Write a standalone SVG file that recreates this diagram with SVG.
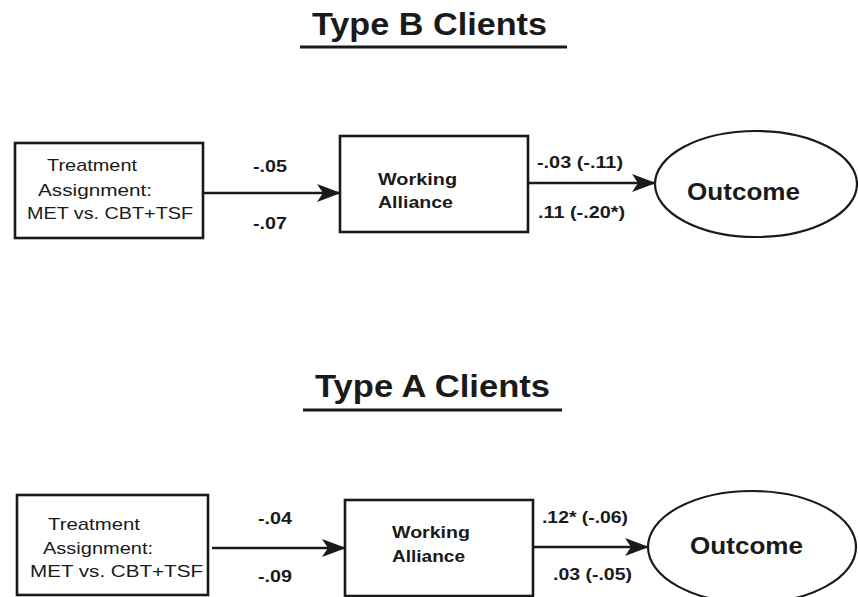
<svg xmlns="http://www.w3.org/2000/svg" width="858" height="597" viewBox="0 0 858 597">
<defs>
<style>
.title{font-family:"Liberation Sans",Arial,sans-serif;font-weight:bold;font-size:32px;fill:#1a1a1a}
.reg{font-family:"Liberation Sans",Arial,sans-serif;font-size:17px;fill:#1a1a1a}
.bold{font-family:"Liberation Sans",Arial,sans-serif;font-weight:bold;font-size:16px;fill:#1a1a1a}
.out{font-family:"Liberation Sans",Arial,sans-serif;font-weight:bold;font-size:24px;fill:#1a1a1a}
.box{fill:#fff;stroke:#1a1a1a;stroke-width:2.6}
.ell{fill:#fff;stroke:#1a1a1a;stroke-width:2.2}
.uline{stroke:#1a1a1a;stroke-width:3}
.conn{stroke:#1a1a1a;stroke-width:2.6;fill:none;marker-end:url(#ah)}
</style>
<marker id="ah" markerUnits="userSpaceOnUse" viewBox="0 0 24 18" refX="23" refY="9" markerWidth="24" markerHeight="18" orient="auto">
<path d="M0,0 L24,9 L0,18 L6,9 Z" fill="#1a1a1a"/>
</marker>
</defs>
<rect width="858" height="597" fill="#fff"/>

<g id="titleB">
<text class="title" x="312" y="35" textLength="235" lengthAdjust="spacingAndGlyphs">Type B Clients</text>
<line class="uline" x1="300" y1="47" x2="567" y2="47"/>
</g>
<g id="titleA">
<text class="title" x="315" y="397" textLength="235" lengthAdjust="spacingAndGlyphs">Type A Clients</text>
<line class="uline" x1="303" y1="410" x2="562" y2="410"/>
</g>

<g id="connectors">
<line class="conn" x1="203" y1="193" x2="340" y2="193"/>
<line class="conn" x1="528" y1="183" x2="655" y2="183"/>
<line class="conn" x1="212" y1="548" x2="345" y2="548"/>
<line class="conn" x1="533" y1="547" x2="648" y2="547"/>
<text class="bold" x="253" y="172" textLength="34" lengthAdjust="spacingAndGlyphs">-.05</text>
<text class="bold" x="253" y="229" textLength="34" lengthAdjust="spacingAndGlyphs">-.07</text>
<text class="bold" x="537" y="168" textLength="86" lengthAdjust="spacingAndGlyphs">-.03 (-.11)</text>
<text class="bold" x="538" y="218" textLength="87" lengthAdjust="spacingAndGlyphs">.11 (-.20*)</text>
<text class="bold" x="258" y="524" textLength="34" lengthAdjust="spacingAndGlyphs">-.04</text>
<text class="bold" x="258" y="582" textLength="34" lengthAdjust="spacingAndGlyphs">-.09</text>
<text class="bold" x="542" y="523" textLength="86" lengthAdjust="spacingAndGlyphs">.12* (-.06)</text>
<text class="bold" x="553" y="580" textLength="79" lengthAdjust="spacingAndGlyphs">.03 (-.05)</text>
</g>

<g id="treatmentB">
<rect class="box" x="15" y="143" width="188" height="95"/>
<text class="reg" x="47" y="171" textLength="90" lengthAdjust="spacingAndGlyphs">Treatment</text>
<text class="reg" x="38" y="196" textLength="114" lengthAdjust="spacingAndGlyphs">Assignment:</text>
<text class="reg" x="27" y="219" textLength="166" lengthAdjust="spacingAndGlyphs">MET vs. CBT+TSF</text>
</g>
<g id="allianceB">
<rect class="box" x="340" y="136" width="188" height="96"/>
<text class="bold" x="378" y="185" textLength="79" lengthAdjust="spacingAndGlyphs">Working</text>
<text class="bold" x="378" y="208" textLength="75" lengthAdjust="spacingAndGlyphs">Alliance</text>
</g>
<g id="outcomeB">
<ellipse class="ell" cx="756" cy="184" rx="101" ry="53"/>
<text class="out" x="687" y="200" textLength="113" lengthAdjust="spacingAndGlyphs">Outcome</text>
</g>

<g id="treatmentA">
<rect class="box" x="17" y="495" width="191" height="100"/>
<text class="reg" x="48" y="530" textLength="92" lengthAdjust="spacingAndGlyphs">Treatment</text>
<text class="reg" x="43" y="554" textLength="110" lengthAdjust="spacingAndGlyphs">Assignment:</text>
<text class="reg" x="30" y="577" textLength="173" lengthAdjust="spacingAndGlyphs">MET vs. CBT+TSF</text>
</g>
<g id="allianceA">
<rect class="box" x="345" y="500" width="188" height="96"/>
<text class="bold" x="392" y="538" textLength="78" lengthAdjust="spacingAndGlyphs">Working</text>
<text class="bold" x="392" y="562" textLength="73" lengthAdjust="spacingAndGlyphs">Alliance</text>
</g>
<g id="outcomeA">
<ellipse class="ell" cx="752" cy="547" rx="104" ry="56"/>
<text class="out" x="690" y="554" textLength="113" lengthAdjust="spacingAndGlyphs">Outcome</text>
</g>
</svg>
